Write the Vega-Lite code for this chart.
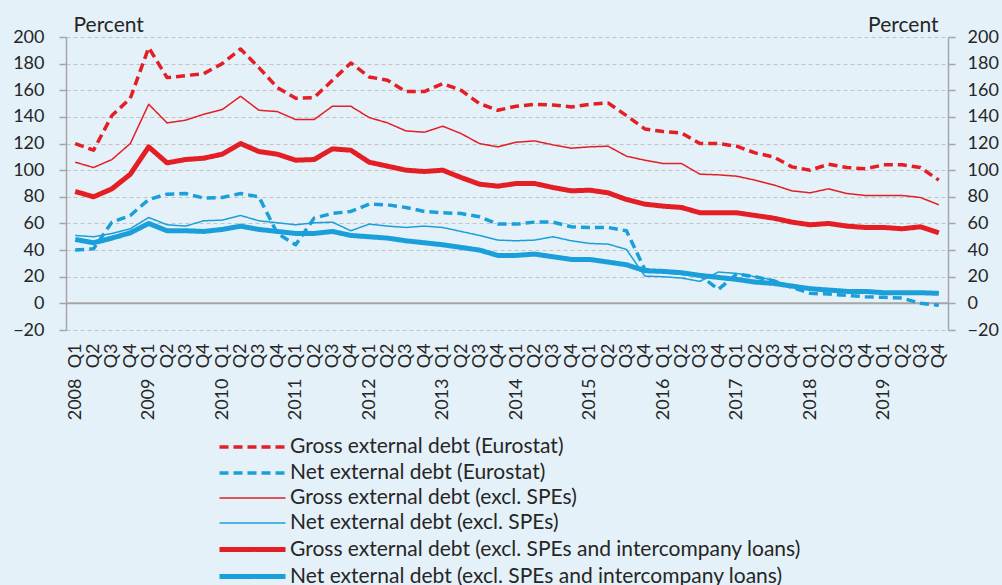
{
"$schema":"https://vega.github.io/schema/vega-lite/v6.json",
"width":882,"height":293,
"autosize":"none",
"padding":{"left":66,"top":37,"right":54,"bottom":255},
"background":"#E4F1F8",
"config":{"font":"Lato","view":{"stroke":null}},
"data":{"values":[
{"q":"2008Q1","s":"GE","v":120},{"q":"2008Q2","s":"GE","v":115},{"q":"2008Q3","s":"GE","v":141},{"q":"2008Q4","s":"GE","v":154},
{"q":"2009Q1","s":"GE","v":192},{"q":"2009Q2","s":"GE","v":169.5},{"q":"2009Q3","s":"GE","v":171},{"q":"2009Q4","s":"GE","v":172.5},
{"q":"2010Q1","s":"GE","v":180},{"q":"2010Q2","s":"GE","v":191},{"q":"2010Q3","s":"GE","v":177},{"q":"2010Q4","s":"GE","v":162},
{"q":"2011Q1","s":"GE","v":154},{"q":"2011Q2","s":"GE","v":154.5},{"q":"2011Q3","s":"GE","v":167.5},{"q":"2011Q4","s":"GE","v":180.5},
{"q":"2012Q1","s":"GE","v":170},{"q":"2012Q2","s":"GE","v":167.5},{"q":"2012Q3","s":"GE","v":159},{"q":"2012Q4","s":"GE","v":159},
{"q":"2013Q1","s":"GE","v":165},{"q":"2013Q2","s":"GE","v":160},{"q":"2013Q3","s":"GE","v":150},{"q":"2013Q4","s":"GE","v":145},
{"q":"2014Q1","s":"GE","v":148},{"q":"2014Q2","s":"GE","v":149.5},{"q":"2014Q3","s":"GE","v":149},{"q":"2014Q4","s":"GE","v":147.5},
{"q":"2015Q1","s":"GE","v":149.5},{"q":"2015Q2","s":"GE","v":150.5},{"q":"2015Q3","s":"GE","v":141},{"q":"2015Q4","s":"GE","v":131},
{"q":"2016Q1","s":"GE","v":129},{"q":"2016Q2","s":"GE","v":128},{"q":"2016Q3","s":"GE","v":120},{"q":"2016Q4","s":"GE","v":120},
{"q":"2017Q1","s":"GE","v":118},{"q":"2017Q2","s":"GE","v":113},{"q":"2017Q3","s":"GE","v":110},{"q":"2017Q4","s":"GE","v":102.5},
{"q":"2018Q1","s":"GE","v":100},{"q":"2018Q2","s":"GE","v":104.5},{"q":"2018Q3","s":"GE","v":102},{"q":"2018Q4","s":"GE","v":101},
{"q":"2019Q1","s":"GE","v":104},{"q":"2019Q2","s":"GE","v":104},{"q":"2019Q3","s":"GE","v":102},{"q":"2019Q4","s":"GE","v":92.5},
{"q":"2008Q1","s":"NE","v":40},{"q":"2008Q2","s":"NE","v":41},{"q":"2008Q3","s":"NE","v":61},{"q":"2008Q4","s":"NE","v":66},
{"q":"2009Q1","s":"NE","v":78},{"q":"2009Q2","s":"NE","v":82},{"q":"2009Q3","s":"NE","v":82.5},{"q":"2009Q4","s":"NE","v":79},
{"q":"2010Q1","s":"NE","v":79.5},{"q":"2010Q2","s":"NE","v":82.5},{"q":"2010Q3","s":"NE","v":80},{"q":"2010Q4","s":"NE","v":52.5},
{"q":"2011Q1","s":"NE","v":44},{"q":"2011Q2","s":"NE","v":64},{"q":"2011Q3","s":"NE","v":67.5},{"q":"2011Q4","s":"NE","v":69},
{"q":"2012Q1","s":"NE","v":74.5},{"q":"2012Q2","s":"NE","v":74},{"q":"2012Q3","s":"NE","v":72},{"q":"2012Q4","s":"NE","v":69},
{"q":"2013Q1","s":"NE","v":68},{"q":"2013Q2","s":"NE","v":67.5},{"q":"2013Q3","s":"NE","v":65},{"q":"2013Q4","s":"NE","v":59.5},
{"q":"2014Q1","s":"NE","v":59.5},{"q":"2014Q2","s":"NE","v":61},{"q":"2014Q3","s":"NE","v":61},{"q":"2014Q4","s":"NE","v":57.5},
{"q":"2015Q1","s":"NE","v":57},{"q":"2015Q2","s":"NE","v":57},{"q":"2015Q3","s":"NE","v":54.5},{"q":"2015Q4","s":"NE","v":25.5},
{"q":"2016Q1","s":"NE","v":24},{"q":"2016Q2","s":"NE","v":22.5},{"q":"2016Q3","s":"NE","v":21},{"q":"2016Q4","s":"NE","v":10.5},
{"q":"2017Q1","s":"NE","v":22},{"q":"2017Q2","s":"NE","v":20},{"q":"2017Q3","s":"NE","v":17},{"q":"2017Q4","s":"NE","v":12},
{"q":"2018Q1","s":"NE","v":7.5},{"q":"2018Q2","s":"NE","v":7},{"q":"2018Q3","s":"NE","v":6},{"q":"2018Q4","s":"NE","v":5},
{"q":"2019Q1","s":"NE","v":4.5},{"q":"2019Q2","s":"NE","v":4},{"q":"2019Q3","s":"NE","v":0},{"q":"2019Q4","s":"NE","v":-1.5},
{"q":"2008Q1","s":"GS","v":106},{"q":"2008Q2","s":"GS","v":102},{"q":"2008Q3","s":"GS","v":108},{"q":"2008Q4","s":"GS","v":120},
{"q":"2009Q1","s":"GS","v":149.5},{"q":"2009Q2","s":"GS","v":135.5},{"q":"2009Q3","s":"GS","v":137.5},{"q":"2009Q4","s":"GS","v":142},
{"q":"2010Q1","s":"GS","v":145.5},{"q":"2010Q2","s":"GS","v":155.5},{"q":"2010Q3","s":"GS","v":145},{"q":"2010Q4","s":"GS","v":144},
{"q":"2011Q1","s":"GS","v":138},{"q":"2011Q2","s":"GS","v":138},{"q":"2011Q3","s":"GS","v":148},{"q":"2011Q4","s":"GS","v":148},
{"q":"2012Q1","s":"GS","v":139.5},{"q":"2012Q2","s":"GS","v":135.5},{"q":"2012Q3","s":"GS","v":129.5},{"q":"2012Q4","s":"GS","v":128.5},
{"q":"2013Q1","s":"GS","v":133},{"q":"2013Q2","s":"GS","v":127.5},{"q":"2013Q3","s":"GS","v":120},{"q":"2013Q4","s":"GS","v":117.5},
{"q":"2014Q1","s":"GS","v":121},{"q":"2014Q2","s":"GS","v":122},{"q":"2014Q3","s":"GS","v":119},{"q":"2014Q4","s":"GS","v":116.5},
{"q":"2015Q1","s":"GS","v":117.5},{"q":"2015Q2","s":"GS","v":118},{"q":"2015Q3","s":"GS","v":110.5},{"q":"2015Q4","s":"GS","v":107.5},
{"q":"2016Q1","s":"GS","v":105},{"q":"2016Q2","s":"GS","v":105},{"q":"2016Q3","s":"GS","v":97},{"q":"2016Q4","s":"GS","v":96.5},
{"q":"2017Q1","s":"GS","v":95.5},{"q":"2017Q2","s":"GS","v":92.5},{"q":"2017Q3","s":"GS","v":89},{"q":"2017Q4","s":"GS","v":84.5},
{"q":"2018Q1","s":"GS","v":83},{"q":"2018Q2","s":"GS","v":86},{"q":"2018Q3","s":"GS","v":82.5},{"q":"2018Q4","s":"GS","v":81},
{"q":"2019Q1","s":"GS","v":81},{"q":"2019Q2","s":"GS","v":81},{"q":"2019Q3","s":"GS","v":79.5},{"q":"2019Q4","s":"GS","v":74},
{"q":"2008Q1","s":"NS","v":51},{"q":"2008Q2","s":"NS","v":50},{"q":"2008Q3","s":"NS","v":52.5},{"q":"2008Q4","s":"NS","v":56},
{"q":"2009Q1","s":"NS","v":64.5},{"q":"2009Q2","s":"NS","v":59},{"q":"2009Q3","s":"NS","v":58},{"q":"2009Q4","s":"NS","v":62},
{"q":"2010Q1","s":"NS","v":62.5},{"q":"2010Q2","s":"NS","v":66},{"q":"2010Q3","s":"NS","v":62},{"q":"2010Q4","s":"NS","v":60.5},
{"q":"2011Q1","s":"NS","v":59},{"q":"2011Q2","s":"NS","v":60.5},{"q":"2011Q3","s":"NS","v":61},{"q":"2011Q4","s":"NS","v":54.5},
{"q":"2012Q1","s":"NS","v":59.5},{"q":"2012Q2","s":"NS","v":58},{"q":"2012Q3","s":"NS","v":57},{"q":"2012Q4","s":"NS","v":58},
{"q":"2013Q1","s":"NS","v":57},{"q":"2013Q2","s":"NS","v":54},{"q":"2013Q3","s":"NS","v":51},{"q":"2013Q4","s":"NS","v":47.5},
{"q":"2014Q1","s":"NS","v":47},{"q":"2014Q2","s":"NS","v":47.5},{"q":"2014Q3","s":"NS","v":50},{"q":"2014Q4","s":"NS","v":47},
{"q":"2015Q1","s":"NS","v":45},{"q":"2015Q2","s":"NS","v":44.5},{"q":"2015Q3","s":"NS","v":40.5},{"q":"2015Q4","s":"NS","v":20.5},
{"q":"2016Q1","s":"NS","v":20},{"q":"2016Q2","s":"NS","v":19},{"q":"2016Q3","s":"NS","v":16.5},{"q":"2016Q4","s":"NS","v":23.5},
{"q":"2017Q1","s":"NS","v":22.5},{"q":"2017Q2","s":"NS","v":20},{"q":"2017Q3","s":"NS","v":17.5},{"q":"2017Q4","s":"NS","v":12.5},
{"q":"2018Q1","s":"NS","v":11},{"q":"2018Q2","s":"NS","v":10},{"q":"2018Q3","s":"NS","v":9.5},{"q":"2018Q4","s":"NS","v":9},
{"q":"2019Q1","s":"NS","v":8.5},{"q":"2019Q2","s":"NS","v":8.5},{"q":"2019Q3","s":"NS","v":8.5},{"q":"2019Q4","s":"NS","v":8},
{"q":"2008Q1","s":"GI","v":84},{"q":"2008Q2","s":"GI","v":80},{"q":"2008Q3","s":"GI","v":86},{"q":"2008Q4","s":"GI","v":97},
{"q":"2009Q1","s":"GI","v":117.5},{"q":"2009Q2","s":"GI","v":105.5},{"q":"2009Q3","s":"GI","v":108},{"q":"2009Q4","s":"GI","v":109},
{"q":"2010Q1","s":"GI","v":112},{"q":"2010Q2","s":"GI","v":120},{"q":"2010Q3","s":"GI","v":114},{"q":"2010Q4","s":"GI","v":112},
{"q":"2011Q1","s":"GI","v":107.5},{"q":"2011Q2","s":"GI","v":108},{"q":"2011Q3","s":"GI","v":116},{"q":"2011Q4","s":"GI","v":115},
{"q":"2012Q1","s":"GI","v":106},{"q":"2012Q2","s":"GI","v":103},{"q":"2012Q3","s":"GI","v":100},{"q":"2012Q4","s":"GI","v":99},
{"q":"2013Q1","s":"GI","v":100},{"q":"2013Q2","s":"GI","v":94.5},{"q":"2013Q3","s":"GI","v":89.5},{"q":"2013Q4","s":"GI","v":88},
{"q":"2014Q1","s":"GI","v":90},{"q":"2014Q2","s":"GI","v":90},{"q":"2014Q3","s":"GI","v":87},{"q":"2014Q4","s":"GI","v":84.5},
{"q":"2015Q1","s":"GI","v":85},{"q":"2015Q2","s":"GI","v":83},{"q":"2015Q3","s":"GI","v":78},{"q":"2015Q4","s":"GI","v":74.5},
{"q":"2016Q1","s":"GI","v":73},{"q":"2016Q2","s":"GI","v":72},{"q":"2016Q3","s":"GI","v":68},{"q":"2016Q4","s":"GI","v":68},
{"q":"2017Q1","s":"GI","v":68},{"q":"2017Q2","s":"GI","v":66},{"q":"2017Q3","s":"GI","v":64},{"q":"2017Q4","s":"GI","v":61},
{"q":"2018Q1","s":"GI","v":59},{"q":"2018Q2","s":"GI","v":60},{"q":"2018Q3","s":"GI","v":58},{"q":"2018Q4","s":"GI","v":57},
{"q":"2019Q1","s":"GI","v":57},{"q":"2019Q2","s":"GI","v":56},{"q":"2019Q3","s":"GI","v":57.5},{"q":"2019Q4","s":"GI","v":53},
{"q":"2008Q1","s":"NI","v":48},{"q":"2008Q2","s":"NI","v":45.5},{"q":"2008Q3","s":"NI","v":49},{"q":"2008Q4","s":"NI","v":53},
{"q":"2009Q1","s":"NI","v":60},{"q":"2009Q2","s":"NI","v":54.5},{"q":"2009Q3","s":"NI","v":54.5},{"q":"2009Q4","s":"NI","v":54},
{"q":"2010Q1","s":"NI","v":55.5},{"q":"2010Q2","s":"NI","v":58},{"q":"2010Q3","s":"NI","v":55.5},{"q":"2010Q4","s":"NI","v":54},
{"q":"2011Q1","s":"NI","v":52.5},{"q":"2011Q2","s":"NI","v":52.5},{"q":"2011Q3","s":"NI","v":54},{"q":"2011Q4","s":"NI","v":51},
{"q":"2012Q1","s":"NI","v":50},{"q":"2012Q2","s":"NI","v":49},{"q":"2012Q3","s":"NI","v":47},{"q":"2012Q4","s":"NI","v":45.5},
{"q":"2013Q1","s":"NI","v":44},{"q":"2013Q2","s":"NI","v":42},{"q":"2013Q3","s":"NI","v":40},{"q":"2013Q4","s":"NI","v":36},
{"q":"2014Q1","s":"NI","v":36},{"q":"2014Q2","s":"NI","v":37},{"q":"2014Q3","s":"NI","v":35},{"q":"2014Q4","s":"NI","v":33},
{"q":"2015Q1","s":"NI","v":33},{"q":"2015Q2","s":"NI","v":31},{"q":"2015Q3","s":"NI","v":29},{"q":"2015Q4","s":"NI","v":24.5},
{"q":"2016Q1","s":"NI","v":24},{"q":"2016Q2","s":"NI","v":23},{"q":"2016Q3","s":"NI","v":21},{"q":"2016Q4","s":"NI","v":19.5},
{"q":"2017Q1","s":"NI","v":18},{"q":"2017Q2","s":"NI","v":16},{"q":"2017Q3","s":"NI","v":15},{"q":"2017Q4","s":"NI","v":13},
{"q":"2018Q1","s":"NI","v":11},{"q":"2018Q2","s":"NI","v":10},{"q":"2018Q3","s":"NI","v":9},{"q":"2018Q4","s":"NI","v":9},
{"q":"2019Q1","s":"NI","v":8},{"q":"2019Q2","s":"NI","v":8},{"q":"2019Q3","s":"NI","v":8},{"q":"2019Q4","s":"NI","v":7.5}
]},
"layer":[
{"data":{"values":[{}]},"mark":{"type":"rule","color":"#A6A6A6","strokeWidth":2},
 "encoding":{"y":{"datum":0,"type":"quantitative","axis":null}}},
{"mark":{"type":"line","strokeCap":"butt","strokeJoin":"round"},
 "encoding":{
  "x":{"field":"q","type":"ordinal","sort":null,"scale":{"type":"point","padding":0.5},
   "axis":{"orient":"bottom","title":null,"labelAngle":-90,"labelExpr":"slice(datum.value,4)","domain":false,"ticks":false,"grid":false,"labelPadding":13,"labelFontSize":18,"labelColor":"#262626","labelOverlap":false,"labelBound":false}},
  "y":{"field":"v","type":"quantitative","scale":{"domain":[-20,200],"nice":false,"zero":false},
   "axis":{"values":[-20,0,20,40,60,80,100,120,140,160,180,200],"grid":true,"gridDash":[4,3],"gridColor":"#C4C4C4","gridWidth":1.2,"domainColor":"#A6A6A6","domainWidth":1.5,"tickColor":"#A6A6A6","tickWidth":1.5,"tickSize":7,"labelPadding":15,"labelFontSize":18,"labelColor":"#262626","title":"Percent","titleAngle":0,"titleAlign":"left","titleBaseline":"alphabetic","titleX":7,"titleY":-6,"titleFontSize":21,"titleFontWeight":"normal","titleColor":"#262626"}},
  "color":{"field":"s","type":"nominal","scale":{"domain":["GE","NE","GS","NS","GI","NI"],"range":["#E31E24","#1A9FDA","#E31E24","#1A9FDA","#E31E24","#1A9FDA"]},
   "legend":{"orient":"none","legendX":151,"legendY":397,"title":null,"symbolType":"M-1,0H5","symbolSize":484,"labelFontSize":21,"labelColor":"#262626","labelOffset":46,"labelLimit":0,"rowPadding":3,"padding":0,
    "labelExpr":"datum.label=='GE'?'Gross external debt (Eurostat)':datum.label=='NE'?'Net external debt (Eurostat)':datum.label=='GS'?'Gross external debt (excl. SPEs)':datum.label=='NS'?'Net external debt (excl. SPEs)':datum.label=='GI'?'Gross external debt (excl. SPEs and intercompany loans)':'Net external debt (excl. SPEs and intercompany loans)'"}},
  "strokeDash":{"field":"s","type":"nominal","scale":{"domain":["GE","NE","GS","NS","GI","NI"],"range":[[9,5],[9,5],[1,0],[1,0],[1,0],[1,0]]}},
  "strokeWidth":{"field":"s","type":"ordinal","scale":{"type":"ordinal","domain":["GE","NE","GS","NS","GI","NI"],"range":[3.5,3.5,1.5,1.5,5,5]}}
 }},
{"mark":{"type":"point","opacity":0},
 "encoding":{
  "x":{"field":"q","type":"ordinal","sort":null,
   "axis":{"orient":"bottom","title":null,"labelAngle":-90,"labelExpr":"slice(datum.value,4)=='Q1'?slice(datum.value,0,4):''","domain":false,"ticks":false,"grid":false,"offset":46,"labelPadding":2,"labelFontSize":18,"labelColor":"#262626","labelOverlap":false,"labelBound":false}},
  "y":{"field":"v","type":"quantitative",
   "axis":{"orient":"right","values":[-20,0,20,40,60,80,100,120,140,160,180,200],"grid":false,"domainColor":"#A6A6A6","domainWidth":1.5,"tickColor":"#A6A6A6","tickWidth":1.5,"tickSize":7,"labelPadding":12,"labelFontSize":18,"labelColor":"#262626","title":"Percent","titleAngle":0,"titleAlign":"right","titleBaseline":"alphabetic","titleX":-10,"titleY":-6,"titleFontSize":21,"titleFontWeight":"normal","titleColor":"#262626"}}
 }}
],
"resolve":{"axis":{"x":"independent","y":"independent"}}
}
